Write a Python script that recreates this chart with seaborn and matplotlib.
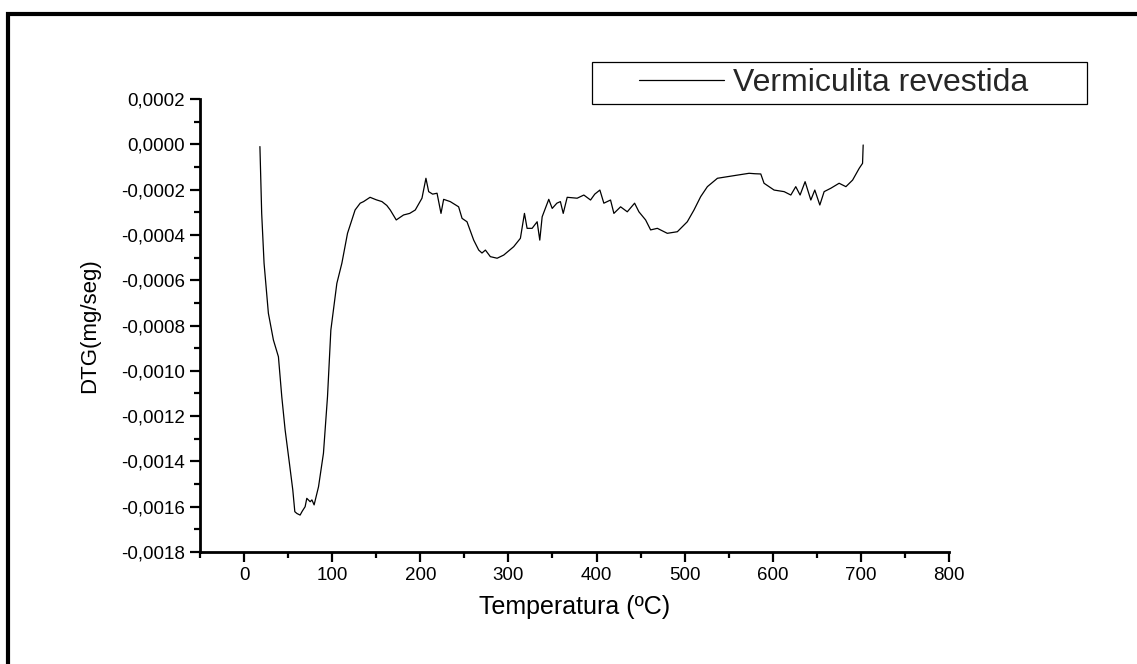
import numpy as np
import pandas as pd
import matplotlib
matplotlib.use("Agg")
import matplotlib.pyplot as plt
from matplotlib.patches import Rectangle
from matplotlib.ticker import FixedLocator, FixedFormatter, MultipleLocator
import seaborn as sns

temperature = [18, 20, 22.7, 27.6, 33.3, 39, 42.8, 46.6, 51.5, 55.3, 57.6, 60, 63.6, 66,
               69.3, 71.2, 75, 77, 79.5, 84.5, 90.1, 94.7, 98.5, 105.3, 111, 117.4, 126,
               131.8, 135.6, 143, 150, 156.5, 162, 165.9, 172.7, 181, 188, 194.3, 201.9,
               206.4, 209.5, 214, 219, 223.5, 226.5, 234, 243.5, 247.4, 253, 260.6, 266.3,
               270, 273.9, 279.5, 287.2, 294.7, 306, 313.6, 318.2, 321.2, 326.9, 332.6,
               335.6, 338.3, 345.8, 349.7, 355, 359, 362.2, 366.7, 378, 385.6, 393.2, 398,
               403.8, 408.3, 415.9, 419.7, 427.3, 434.9, 443.2, 448.1, 455.7, 461.4, 469,
               480.3, 491.7, 503, 510.6, 518.2, 525.8, 537.2, 548.5, 559.9, 573.1, 580,
               586.4, 590.1, 601.5, 612.9, 620.5, 626.1, 631, 636.7, 643.2, 647.7, 653.4,
               658.3, 665.9, 675.3, 683, 690.6, 698.1, 701.9, 702.6]

dtg = [-0.10e-4, -3.05e-4, -5.25e-4, -7.46e-4, -8.64e-4, -9.38e-4, -11.14e-4, -12.61e-4,
       -14.09e-4, -15.26e-4, -16.22e-4, -16.30e-4, -16.37e-4, -16.20e-4, -16.00e-4,
       -15.63e-4, -15.78e-4, -15.70e-4, -15.92e-4, -15.12e-4, -13.64e-4, -11.14e-4,
       -8.20e-4, -6.14e-4, -5.25e-4, -3.93e-4, -2.90e-4, -2.60e-4, -2.53e-4, -2.34e-4,
       -2.45e-4, -2.53e-4, -2.70e-4, -2.90e-4, -3.34e-4, -3.12e-4, -3.05e-4, -2.90e-4,
       -2.38e-4, -1.50e-4, -2.09e-4, -2.20e-4, -2.16e-4, -3.05e-4, -2.43e-4, -2.53e-4,
       -2.76e-4, -3.27e-4, -3.42e-4, -4.23e-4, -4.67e-4, -4.80e-4, -4.67e-4, -4.96e-4,
       -5.03e-4, -4.89e-4, -4.52e-4, -4.15e-4, -3.05e-4, -3.71e-4, -3.71e-4, -3.42e-4,
       -4.23e-4, -3.20e-4, -2.43e-4, -2.83e-4, -2.60e-4, -2.53e-4, -3.05e-4, -2.34e-4,
       -2.38e-4, -2.24e-4, -2.46e-4, -2.20e-4, -2.02e-4, -2.60e-4, -2.46e-4, -3.05e-4,
       -2.76e-4, -2.98e-4, -2.60e-4, -2.98e-4, -3.34e-4, -3.78e-4, -3.71e-4, -3.93e-4,
       -3.86e-4, -3.42e-4, -2.90e-4, -2.31e-4, -1.87e-4, -1.50e-4, -1.43e-4, -1.36e-4,
       -1.28e-4, -1.30e-4, -1.31e-4, -1.72e-4, -2.02e-4, -2.09e-4, -2.24e-4, -1.87e-4,
       -2.24e-4, -1.65e-4, -2.46e-4, -2.02e-4, -2.68e-4, -2.09e-4, -1.94e-4, -1.72e-4,
       -1.87e-4, -1.58e-4, -1.06e-4, -0.84e-4, -0.03e-4]

series_name = "Vermiculita revestida"
x_ticks = [0, 100, 200, 300, 400, 500, 600, 700, 800]
x_tick_labels = ["0", "100", "200", "300", "400", "500", "600", "700", "800"]
y_ticks = [-0.0018, -0.0016, -0.0014, -0.0012, -0.0010, -0.0008, -0.0006, -0.0004,
           -0.0002, 0.0000, 0.0002]
y_tick_labels = ["-0,0018", "-0,0016", "-0,0014", "-0,0012", "-0,0010", "-0,0008",
                 "-0,0006", "-0,0004", "-0,0002", "0,0000", "0,0002"]
x_label = "Temperatura (ºC)"
y_label = "DTG(mg/seg)"

df = pd.DataFrame({"T": temperature, "DTG": dtg, "serie": series_name})

sns.set_theme(style="ticks")
plt.rcParams["font.family"] = ["Liberation Sans", "DejaVu Sans"]

W, H = 1137, 664
fig = plt.figure(figsize=(W / 100, H / 100), dpi=100)
fig.patch.set_facecolor("white")
ax = fig.add_axes([200 / W, 1 - 552 / H, 749 / W, 453 / H])
ax.set_facecolor("white")

sns.lineplot(data=df, x="T", y="DTG", color="black", linewidth=0.9, ax=ax,
             estimator=None, sort=False, label=series_name)

ax.set_xlim(-50, 800)
ax.set_ylim(-0.0018, 0.0002)
ax.xaxis.set_major_locator(FixedLocator(x_ticks))
ax.xaxis.set_major_formatter(FixedFormatter(x_tick_labels))
ax.xaxis.set_minor_locator(MultipleLocator(50))
ax.yaxis.set_major_locator(FixedLocator(y_ticks))
ax.yaxis.set_major_formatter(FixedFormatter(y_tick_labels))
ax.yaxis.set_minor_locator(MultipleLocator(0.0001))

for side in ["top", "right"]:
    ax.spines[side].set_visible(False)
for side in ["left", "bottom"]:
    ax.spines[side].set_linewidth(2.0)
    ax.spines[side].set_color("black")

ax.tick_params(axis="both", which="major", direction="out", length=7, width=1.6,
               color="black", labelsize=13.5, labelcolor="black", pad=4)
ax.tick_params(axis="both", which="minor", direction="out", length=4, width=1.6,
               color="black")

ax.set_xlabel(x_label, fontsize=18, color="black", labelpad=8)
ax.set_ylabel(y_label, fontsize=16, color="black", labelpad=15)

# legend
fs = 23
fs_px = fs * 100 / 72
leg = ax.legend(loc="center left", bbox_to_anchor=(639 / W, 1 - 83 / H),
                bbox_transform=fig.transFigure, frameon=False, fontsize=fs,
                borderpad=0, borderaxespad=0, handlelength=85 / fs_px,
                handletextpad=9 / fs_px)
for line in leg.get_lines():
    line.set_linewidth(0.9)
fig.patches.append(Rectangle((592 / W, 1 - 104 / H), 495 / W, 42 / H,
                             transform=fig.transFigure, fill=False,
                             edgecolor="black", linewidth=0.9))

# outer frame (only left and top edges visible in the reference)
fig.patches.append(Rectangle((8 / W, -0.2), 1.3, 1.2 - 14 / H,
                             transform=fig.transFigure, fill=False,
                             edgecolor="black", linewidth=3.0))

fig.savefig("out.png", dpi=100, facecolor="white")
